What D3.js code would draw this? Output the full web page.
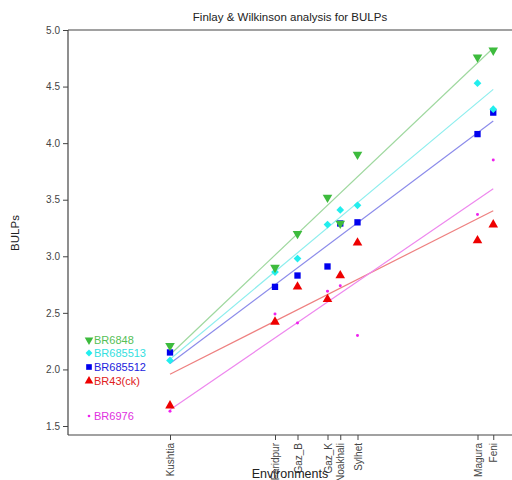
<!DOCTYPE html>
<html>
<head>
<meta charset="utf-8">
<script src="https://cdn.jsdelivr.net/npm/d3@7"></script>
<style>
  html, body { margin: 0; padding: 0; background: #fff; }
  svg { display: block; font-family: "Liberation Sans", Arial, sans-serif; }
</style>
</head>
<body>
<svg id="chart" width="512" height="480"></svg>
<script>
// ---- data ----
const environments = ["Kushtia", "Faridpur", "Gaz_B", "Gaz_K", "Noakhali", "Sylhet", "Magura", "Feni"];
const envIndex = [1.95, 2.65, 2.80, 3.00, 3.085, 3.20, 4.00, 4.105];
const genotypes = ["BR6848", "BR685513", "BR685512", "BR43(ck)", "BR6976"];
const BR6848   = [2.21, 2.90, 3.20, 3.52, 3.29, 3.90, 4.76, 4.82];
const BR685513 = [2.08, 2.86, 2.98, 3.28, 3.41, 3.45, 4.53, 4.30];
const BR685512 = [2.15, 2.73, 2.83, 2.91, 3.29, 3.30, 4.08, 4.27];
const BR43ck   = [1.68, 2.42, 2.73, 2.62, 2.83, 3.12, 3.14, 3.28];
const BR6976   = [1.63, 2.49, 2.41, 2.69, 2.74, 2.30, 3.37, 3.85];
const yTicks = [1.5, 2.0, 2.5, 3.0, 3.5, 4.0, 4.5, 5.0];
const seriesValues = [BR6848, BR685513, BR685512, BR43ck, BR6976];

// ---- styles ----
const markerColors = ["#3dbb3d", "#22eeee", "#0000ee", "#ee0000", "#ee22ee"];
const textColors   = ["#55c055", "#33e0e0", "#2222dd", "#e02020", "#e030e0"];
const lineColors   = ["#9fd89f", "#8eeeee", "#8c8cea", "#ee8080", "#ee88ee"];
const shapes = [d3.symbolTriangle, d3.symbolSquare, d3.symbolSquare, d3.symbolTriangle, d3.symbolCircle];
const sizes = [40, 30, 40, 40, 7];
const rotations = [180, 45, 0, 0, 0];
const drawOrder = [2, 1, 0, 3, 4];

const svg = d3.select("#chart");
const mLeft = 68, mTop = 30, mBottom = 435, mRight = 520;

const x = d3.scaleLinear().domain([1.27, 1.27 + (mRight - mLeft) / 150]).range([mLeft, mRight]);
const y = d3.scaleLinear().domain([1.5, 5.0]).range([426, 30]);

// frame
svg.append("line").attr("x1", mLeft).attr("x2", mRight).attr("y1", mTop).attr("y2", mTop)
  .attr("stroke", "#444").attr("stroke-width", 1.2);

// y axis
const yAxis = svg.append("g").attr("transform", `translate(${mLeft},0)`)
  .call(d3.axisLeft(y).tickValues(yTicks).tickFormat(d3.format(".1f")).tickSize(5).tickSizeOuter(0));
yAxis.select(".domain").attr("d", `M0,${mTop}V${mBottom}`).attr("stroke", "#444").attr("stroke-width", 1.2);
yAxis.selectAll(".tick line").attr("stroke", "#444");
yAxis.selectAll(".tick text").attr("fill", "#444").attr("font-size", 10).attr("x", -8);

// x axis
const xAxis = svg.append("g").attr("transform", `translate(0,${mBottom})`)
  .call(d3.axisBottom(x).tickValues(envIndex).tickFormat((d, i) => environments[i]).tickSize(5).tickSizeOuter(0));
xAxis.select(".domain").attr("d", `M${mLeft},0H${mRight}`).attr("stroke", "#444").attr("stroke-width", 1.2);
xAxis.selectAll(".tick line").attr("stroke", "#444");
xAxis.selectAll(".tick text")
  .attr("fill", "#444").attr("font-size", 10)
  .attr("transform", "rotate(-90)")
  .attr("x", -8).attr("y", 0).attr("dy", "0.35em")
  .attr("text-anchor", "end");

// regression lines
const xMin = d3.min(envIndex), xMax = d3.max(envIndex);
seriesValues.forEach((vals, s) => {
  const mx = d3.mean(envIndex), my = d3.mean(vals);
  let sxy = 0, sxx = 0;
  envIndex.forEach((e, i) => { sxy += (e - mx) * (vals[i] - my); sxx += (e - mx) * (e - mx); });
  const b = sxy / sxx, a = my - b * mx;
  svg.append("line")
    .attr("x1", x(xMin)).attr("y1", y(a + b * xMin))
    .attr("x2", x(xMax)).attr("y2", y(a + b * xMax))
    .attr("stroke", lineColors[s]).attr("stroke-width", 1.2);
});

// points
drawOrder.forEach(s => {
  svg.append("g").selectAll("path").data(seriesValues[s]).join("path")
    .attr("d", d3.symbol().type(shapes[s]).size(sizes[s]))
    .attr("transform", (d, i) => `translate(${x(envIndex[i])},${y(d)}) rotate(${rotations[s]})`)
    .attr("fill", markerColors[s]);
});

// legend
const legendY = [340, 353, 367, 381, 416];
genotypes.forEach((g, s) => {
  svg.append("path")
    .attr("d", d3.symbol().type(shapes[s]).size(sizes[s] * 0.8))
    .attr("transform", `translate(89,${legendY[s]}) rotate(${rotations[s]})`)
    .attr("fill", markerColors[s]);
  svg.append("text").attr("x", 94).attr("y", legendY[s]).attr("dy", "0.35em")
    .attr("font-size", 11).attr("fill", textColors[s]).text(g);
});

// title and labels
svg.append("text").attr("x", 290).attr("y", 21).attr("text-anchor", "middle")
  .attr("font-size", 11.5).attr("fill", "#222").text("Finlay & Wilkinson analysis for BULPs");
svg.append("text").attr("transform", "translate(19,233) rotate(-90)").attr("text-anchor", "middle")
  .attr("font-size", 11.5).attr("fill", "#222").text("BULPs");
svg.append("text").attr("x", 290).attr("y", 478).attr("text-anchor", "middle")
  .attr("font-size", 12.5).attr("fill", "#222").text("Environments");
</script>
</body>
</html>
